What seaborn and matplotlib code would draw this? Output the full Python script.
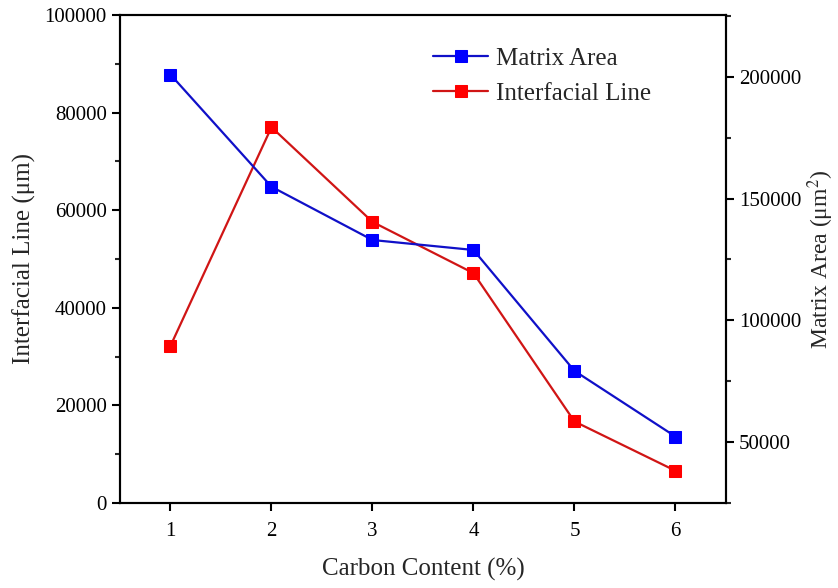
import matplotlib
matplotlib.use("Agg")
import matplotlib.pyplot as plt
from matplotlib.ticker import MultipleLocator, AutoMinorLocator
import pandas as pd
import seaborn as sns

# values
carbon = [1, 2, 3, 4, 5, 6]
interfacial_line = [32200, 77000, 57600, 47100, 16700, 6600]   # left axis, um
matrix_area = [201000, 154900, 133000, 128900, 79200, 52200]    # right axis, um^2

sns.set_style("ticks")
plt.rcParams["font.family"] = ["Liberation Serif", "DejaVu Serif"]
plt.rcParams["mathtext.fontset"] = "stix"

df = pd.DataFrame({"carbon": carbon, "line": interfacial_line, "area": matrix_area})

fig = plt.figure(figsize=(8.38, 5.88), dpi=100)
ax = fig.add_axes([0.1432, 0.1446, 0.7231, 0.8299])
ax2 = ax.twinx()

sns.lineplot(data=df, x="carbon", y="line", ax=ax, color="#D01515", lw=1.6,
             marker="s", markersize=8, markerfacecolor="#FF0000",
             markeredgecolor="#FF0000", label="Interfacial Line", legend=False)
sns.lineplot(data=df, x="carbon", y="area", ax=ax2, color="#1010C8", lw=1.6,
             marker="s", markersize=8, markerfacecolor="#0000FF",
             markeredgecolor="#0000FF", label="Matrix Area", legend=False)

ax.set_xlim(0.5, 6.5)
ax.set_ylim(0, 100000)
ax2.set_ylim(24900, 225500)
ax.set_xticks(carbon)
ax.yaxis.set_major_locator(MultipleLocator(20000))
ax.yaxis.set_minor_locator(AutoMinorLocator(2))
ax2.set_yticks([50000, 100000, 150000, 200000])
ax2.yaxis.set_minor_locator(MultipleLocator(25000))

for a in (ax, ax2):
    for s in a.spines.values():
        s.set_linewidth(1.5)
        s.set_color("black")
    a.tick_params(which="major", direction="out", length=6, width=1.5, labelsize=15, colors="black")
    a.tick_params(which="minor", direction="out", length=3.5, width=1.5)
ax.tick_params(axis="x", pad=8)

ax.set_xlabel("Carbon Content (%)", fontsize=18, labelpad=12)
ax.set_ylabel("Interfacial Line (μm)", fontsize=18, labelpad=6)
ax2.set_ylabel("Matrix Area (μm$^2$)", fontsize=17, labelpad=3)

h1, l1 = ax.get_legend_handles_labels()
h2, l2 = ax2.get_legend_handles_labels()
ax2.legend(h2 + h1, l2 + l1, loc="upper left", bbox_to_anchor=(0.48, 0.98),
           frameon=False, fontsize=18, handlelength=2.2, labelspacing=0.5,
           handletextpad=0.3)

fig.savefig("out.png", dpi=100)
